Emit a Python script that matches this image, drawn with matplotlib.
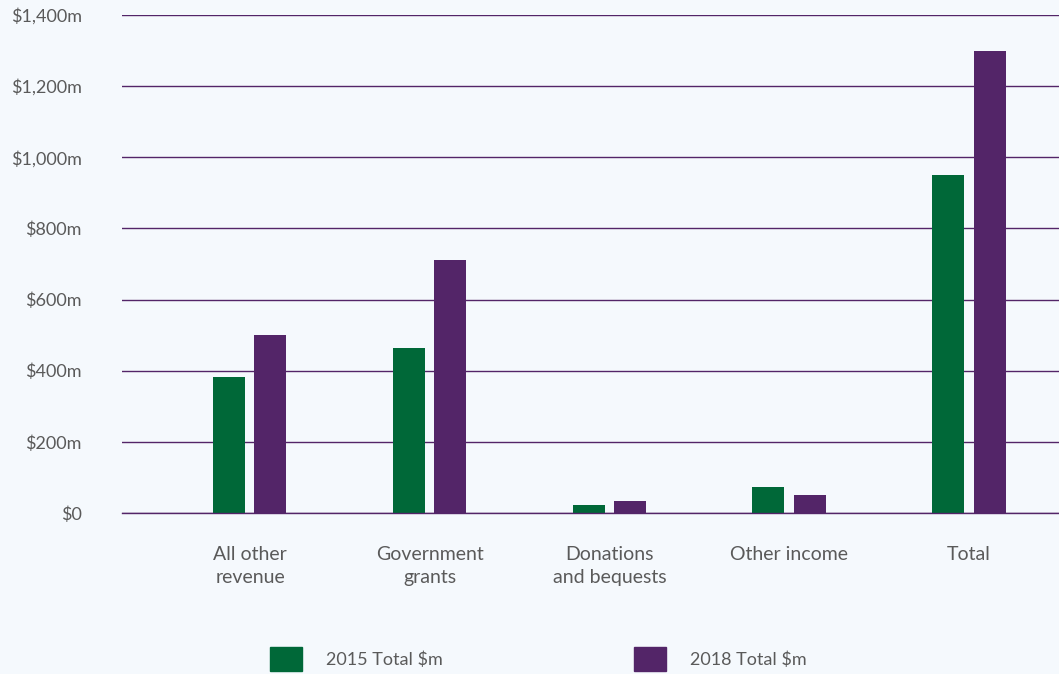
import matplotlib.pyplot as plt
import numpy as np
from matplotlib.patches import Patch

categories = ['All other\nrevenue', 'Government\ngrants', 'Donations\nand bequests',
              'Other income', 'Total']
total_2015 = [382, 464, 22, 73, 950]
total_2018 = [500, 711, 34, 51, 1299]
series_names = ['2015 Total $m', '2018 Total $m']
y_ticks = [0, 200, 400, 600, 800, 1000, 1200, 1400]
y_labels = ['$0', '$200m', '$400m', '$600m', '$800m', '$1,000m', '$1,200m', '$1,400m']

green = '#006838'
purple = '#532568'
bg = '#f5f9fd'
text_col = '#5a5a5a'

plt.rcParams['font.family'] = ['Lato', 'DejaVu Sans']

fig = plt.figure(figsize=(10.59, 6.74), dpi=100, facecolor=bg)
ax = fig.add_axes([122 / 1059, (674 - 513) / 674, 1 - 122 / 1059, 498 / 674])
ax.set_facecolor(bg)

x = np.arange(len(categories))
w = 0.178
ax.bar(x - 0.117, total_2015, width=w, color=green, zorder=3)
ax.bar(x + 0.114, total_2018, width=w, color=purple, zorder=3)

ax.set_xlim(-0.712, 4.5)
ax.set_ylim(0, 1400)
ax.set_yticks(y_ticks)
ax.set_yticklabels(y_labels)
ax.set_xticks(x)
ax.set_xticklabels(categories, linespacing=1.42)
ax.yaxis.grid(True, color=purple, linewidth=1.0, zorder=0)
ax.axhline(0, color=purple, linewidth=1.0, zorder=4, clip_on=False)
ax.tick_params(axis='y', length=0, pad=29, labelsize=13, labelcolor=text_col)
ax.tick_params(axis='x', length=0, pad=24, labelsize=14, labelcolor=text_col)
for s in ax.spines.values():
    s.set_visible(False)

handles = [Patch(color=green), Patch(color=purple)]
fig.legend(handles, series_names, loc='center left', ncol=2,
           bbox_to_anchor=(270 / 1059, (674 - 659) / 674), frameon=False,
           fontsize=13, labelcolor=text_col, handlelength=1.78, handleheight=1.7,
           handletextpad=1.33, columnspacing=10.58, borderpad=0, borderaxespad=0)

fig.savefig('out.png', dpi=100, facecolor=bg)
